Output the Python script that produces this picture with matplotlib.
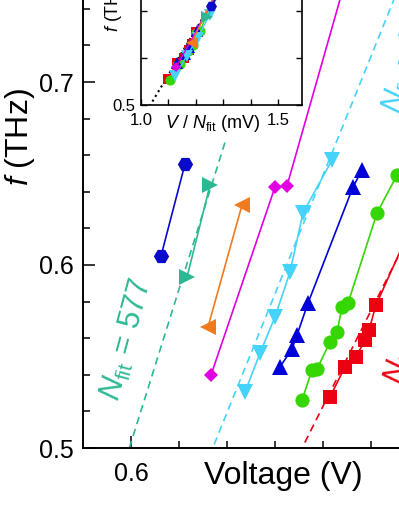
import numpy as np
import matplotlib
matplotlib.use("Agg")
import matplotlib.pyplot as plt
from matplotlib.ticker import FixedLocator, NullFormatter

plt.rcParams['font.family'] = ['Liberation Sans', 'DejaVu Sans']
plt.rcParams['mathtext.fontset'] = 'custom'
plt.rcParams['mathtext.rm'] = 'Liberation Sans'
plt.rcParams['mathtext.it'] = 'Liberation Sans:italic'

KJ = 483.6  # 2e/h in THz per V

# measured steps (voltage in V, frequency in THz)
hex_v = [0.6625, 0.7125]
hex_f = [0.6049, 0.6552]
teal_v = [0.7167, 0.7646]
teal_f = [0.5934, 0.6437]
orange_v = [0.7604, 0.8313]
orange_f = [0.5661, 0.6328]
mag_v = [0.7667, 0.900, 0.925, 1.050]
mag_f = [0.5399, 0.6426, 0.6432, 0.7585]
cyan_v = [0.8375, 0.8688, 0.900, 0.9313, 0.9583, 1.0188]
cyan_f = [0.5306, 0.5519, 0.5716, 0.5962, 0.6284, 0.6574]
blue_v = [0.9104, 0.9354, 0.9458, 0.9688, 1.0625, 1.0813]
blue_f = [0.5443, 0.5541, 0.5617, 0.5792, 0.6426, 0.6519]
green_v = [0.9563, 0.9771, 0.9875, 1.0146, 1.0292, 1.0396, 1.0521, 1.1125, 1.1542, 1.2020]
green_f = [0.5262, 0.5426, 0.5432, 0.5579, 0.5634, 0.5770, 0.5792, 0.6284, 0.6492, 0.6738]
red_v = [1.0146, 1.0458, 1.0688, 1.0875, 1.0958, 1.1104, 1.1854]
red_f = [0.5279, 0.5443, 0.5497, 0.5590, 0.5645, 0.5781, 0.6219]

# fitted junction numbers
n_fit = [527, 577, 642, 680, 745, 805, 865, 925]

series = [
    (hex_v, hex_f, 'H', '#0A0ACD', 11),
    (teal_v, teal_f, '>', '#2DB894', 11.5),
    (orange_v, orange_f, '<', '#F07A1E', 11.5),
    (mag_v, mag_f, 'D', '#E100E1', 7.5),
    (cyan_v, cyan_f, 'v', '#45D3FA', 11.5),
    (blue_v, blue_f, '^', '#0000D8', 11.5),
    (green_v, green_f, 'o', '#36D600', 10.2),
    (red_v, red_f, 's', '#EC0012', 9.5),
]

# dashed fit lines: (N, f start, f end, colour)
fits = [
    (577, 0.500, 0.667, '#2DB894'),
    (745, 0.502, 0.760, '#45D3FA'),
    (925, 0.503, 0.700, '#EC0012'),
]

W, H = 399, 516
fig = plt.figure(figsize=(W / 100, H / 100), dpi=100)

ax = fig.add_axes([83 / W, 68 / H, 336 / W, 457.5 / H])
ax.set_xlim(0.5, 1.2)
ax.set_ylim(0.5, 0.75)

for n, f0, f1, c in fits:
    ff = np.array([f0, f1])
    ln, = ax.plot(ff * n / KJ, ff, color=c, lw=1.2, zorder=2)
    ln.set_dashes((4.5, 3))

for v, f, m, c, ms in series:
    ax.plot(v, f, '-', color=c, lw=1.2, marker=m, ms=ms, mec=c, mew=0, zorder=3)

for s in ['left', 'bottom', 'right', 'top']:
    ax.spines[s].set_linewidth(1.4)
ax.xaxis.set_major_locator(FixedLocator([0.6]))
ax.xaxis.set_minor_locator(FixedLocator([0.7, 0.8, 0.9, 1.0, 1.1]))
ax.yaxis.set_major_locator(FixedLocator([0.5, 0.6, 0.7]))
ax.yaxis.set_minor_locator(FixedLocator([0.52, 0.54, 0.56, 0.58, 0.62, 0.64, 0.66, 0.68, 0.72, 0.74]))
ax.xaxis.set_minor_formatter(NullFormatter())
ax.yaxis.set_minor_formatter(NullFormatter())
ax.tick_params(which='major', direction='in', length=8.5, width=1.1, labelsize=18)
ax.tick_params(axis='x', which='major', pad=10)
ax.tick_params(axis='y', which='major', pad=7)
ax.tick_params(which='minor', direction='in', length=5, width=1.1)

fig.text(20 / W, 1 - 137 / H, r'$f$ (THz)', rotation=90, fontsize=23, ha='center', va='center')
fig.text(283 / W, 1 - 476 / H, 'Voltage (V)', fontsize=23, ha='center', va='center')

ax.text(0.575, 0.5251, r'$N_{\rm fit}$ = 577', color='#2DB894', fontsize=22, rotation=75,
        rotation_mode='anchor', ha='left', va='baseline')
ax.text(1.162, 0.682, r'$N_{\rm fit}$ = 745', color='#45D3FA', fontsize=22, rotation=75,
        rotation_mode='anchor', ha='left', va='baseline')
ax.text(1.168, 0.5339, r'$N_{\rm fit}$ = 925', color='#EC0012', fontsize=22, rotation=75,
        rotation_mode='anchor', ha='left', va='baseline')

# inset: frequency against voltage per junction
ins = fig.add_axes([141 / W, 411 / H, 161 / W, 235 / H])
ins.set_xlim(1.0, 1.0 + 161 / 274)
ins.set_ylim(0.5, 0.75)
xx = np.array([1.0, 1.6])
ins.plot(xx, KJ / 1000 * xx, ':', color='black', lw=1.5, zorder=1)
# later series underneath, as in the original inset
for k, ((v, f, m, c, ms), n) in enumerate(zip(series, n_fit)):
    ins.plot(np.array(v) * 1000 / n, f, '-', color=c, lw=1.0, marker=m, ms=ms * 0.72,
             mec=c, mew=0, zorder=20 - k)
for s in ['left', 'bottom', 'right', 'top']:
    ins.spines[s].set_linewidth(1.2)
ins.xaxis.set_major_locator(FixedLocator([1.0, 1.5]))
ins.xaxis.set_minor_locator(FixedLocator([1.1, 1.2, 1.3, 1.4]))
ins.yaxis.set_major_locator(FixedLocator([0.5]))
ins.yaxis.set_minor_locator(FixedLocator([0.55, 0.6, 0.65, 0.7]))
ins.xaxis.set_minor_formatter(NullFormatter())
ins.yaxis.set_minor_formatter(NullFormatter())
ins.tick_params(which='both', direction='in', length=4, width=1.0, labelsize=12,
                top=True, right=True)
ins.tick_params(axis='x', pad=6)
ins.tick_params(axis='y', pad=4)

fig.text(114 / W, 1 - 4.5 / H, r'$f$ (THz)', rotation=90, fontsize=13, ha='center', va='center')
fig.text(213 / W, 1 - 123 / H, r'$V$ / $N_{\rm fit}$ (mV)', fontsize=13, ha='center', va='center')

fig.savefig('out.png', dpi=100)
